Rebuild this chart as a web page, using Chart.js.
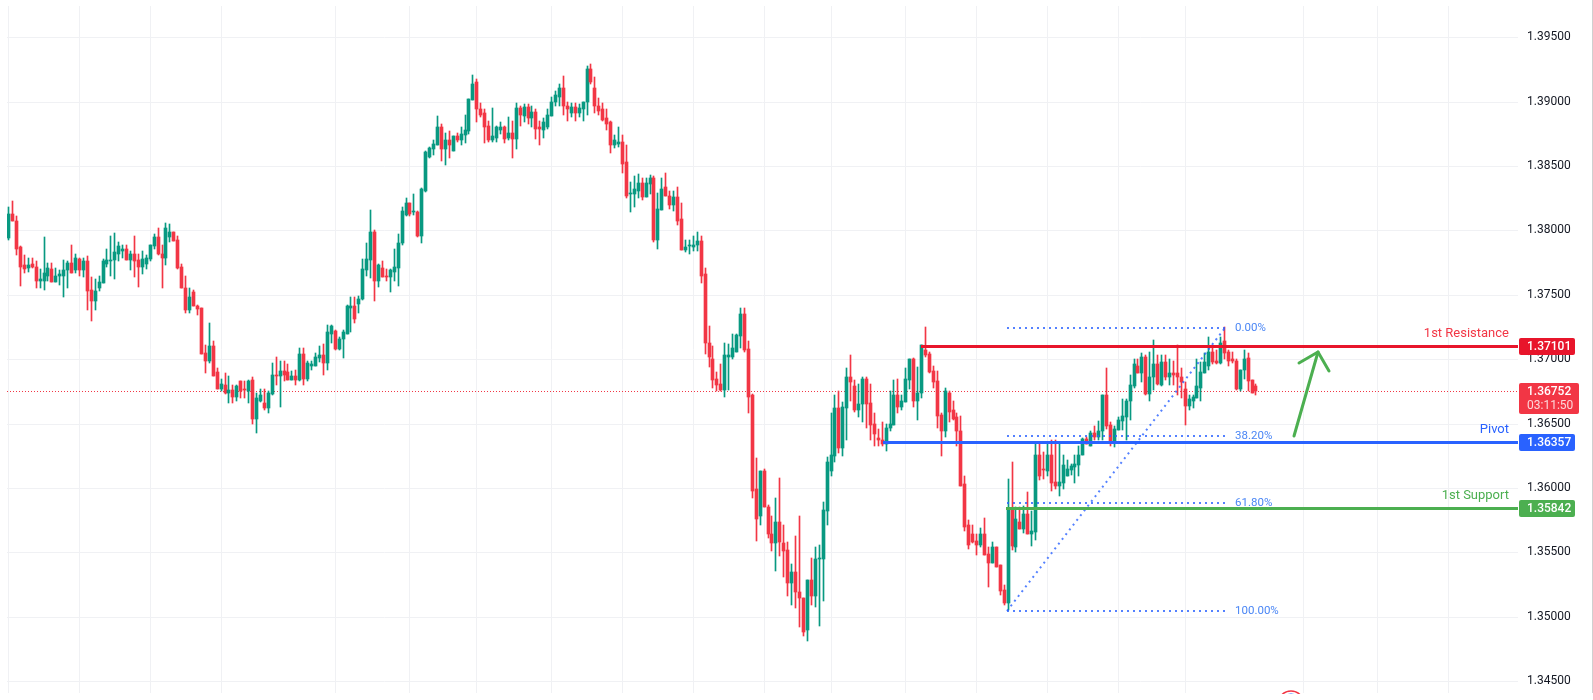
<!DOCTYPE html>
<html><head><meta charset="utf-8">
<style>html,body{margin:0;padding:0;background:#fff;overflow:hidden}canvas{display:block}</style>
<script src="https://cdn.jsdelivr.net/npm/chart.js@4"></script></head>
<body><canvas id="c" width="1593" height="700"></canvas>
<script>
const opens=[1.3794,1.3813,1.3807,1.3787,1.3773,1.3771,1.3774,1.3772,1.3761,1.3761,
1.3765,1.3770,1.3760,1.3765,1.3765,1.3769,1.3775,1.3769,1.3778,1.3769,
1.3776,1.3754,1.3745,1.3755,1.3759,1.3774,1.3776,1.3777,1.3782,1.3784,
1.3786,1.3777,1.3782,1.3777,1.3772,1.3774,1.3778,1.3788,1.3795,1.3782,
1.3779,1.3795,1.3799,1.3793,1.3772,1.3755,1.3738,1.3752,1.3741,1.3740,
1.3705,1.3699,1.3710,1.3690,1.3677,1.3680,1.3674,1.3676,1.3671,1.3683,
1.3677,1.3675,1.3684,1.3654,1.3668,1.3666,1.3662,1.3673,1.3688,1.3687,
1.3691,1.3690,1.3684,1.3687,1.3684,1.3704,1.3685,1.3695,1.3695,1.3701,
1.3703,1.3697,1.3720,1.3722,1.3708,1.3716,1.3720,1.3740,1.3741,1.3743,
1.3747,1.3769,1.3777,1.3799,1.3761,1.3771,1.3765,1.3764,1.3768,1.3771,
1.3790,1.3812,1.3821,1.3814,1.3814,1.3796,1.3831,1.3857,1.3863,1.3866,
1.3880,1.3863,1.3870,1.3862,1.3873,1.3870,1.3874,1.3877,1.3901,1.3915,
1.3894,1.3891,1.3881,1.3870,1.3872,1.3878,1.3880,1.3872,1.3876,1.3871,
1.3895,1.3889,1.3896,1.3887,1.3892,1.3880,1.3878,1.3880,1.3889,1.3900,
1.3904,1.3911,1.3897,1.3891,1.3896,1.3891,1.3894,1.3900,1.3925,1.3911,
1.3897,1.3894,1.3887,1.3884,1.3866,1.3867,1.3869,1.3853,1.3828,1.3828,
1.3831,1.3837,1.3826,1.3836,1.3841,1.3793,1.3816,1.3834,1.3827,1.3820,
1.3826,1.3809,1.3785,1.3788,1.3787,1.3789,1.3792,1.3766,1.3713,1.3700,
1.3685,1.3681,1.3676,1.3702,1.3702,1.3706,1.3718,1.3735,1.3708,1.3672,
1.3599,1.3578,1.3613,1.3585,1.3564,1.3557,1.3574,1.3557,1.3552,1.3526,
1.3535,1.3519,1.3515,1.3490,1.3529,1.3516,1.3545,1.3545,1.3582,1.3613,
1.3625,1.3662,1.3631,1.3662,1.3686,1.3679,1.3661,1.3665,1.3685,1.3666,
1.3650,1.3639,1.3637,1.3634,1.3647,1.3649,1.3672,1.3663,1.3667,1.3684,
1.3700,1.3668,1.3674,1.3707,1.3704,1.3691,1.3683,1.3657,1.3644,1.3674,
1.3661,1.3655,1.3644,1.3603,1.3571,1.3564,1.3559,1.3556,1.3564,1.3549,
1.3542,1.3554,1.3540,1.3521,1.3511,1.3584,1.3554,1.3574,1.3568,1.3580,
1.3564,1.3566,1.3626,1.3615,1.3613,1.3626,1.3605,1.3602,1.3604,1.3609,
1.3614,1.3616,1.3618,1.3626,1.3638,1.3633,1.3643,1.3640,1.3644,1.3672,
1.3649,1.3636,1.3645,1.3652,1.3655,1.3668,1.3679,1.3695,1.3689,1.3702,
1.3673,1.3686,1.3696,1.3680,1.3698,1.3686,1.3689,1.3689,1.3686,1.3677,
1.3664,1.3668,1.3670,1.3678,1.3689,1.3695,1.3706,1.3699,1.3697,1.3714,
1.3706,1.3700,1.3699,1.3677,1.3692,1.3701,1.3684,1.3679];
const highs=[1.3818,1.3823,1.3811,1.3788,1.3781,1.3779,1.3779,1.3776,1.3770,1.3795,
1.3775,1.3775,1.3771,1.3769,1.3777,1.3776,1.3789,1.3782,1.3779,1.3779,
1.3780,1.3764,1.3762,1.3765,1.3778,1.3786,1.3796,1.3798,1.3791,1.3789,
1.3789,1.3784,1.3796,1.3782,1.3784,1.3781,1.3789,1.3797,1.3802,1.3789,
1.3806,1.3805,1.3799,1.3796,1.3774,1.3765,1.3755,1.3754,1.3742,1.3740,
1.3711,1.3728,1.3714,1.3693,1.3685,1.3689,1.3687,1.3680,1.3680,1.3683,
1.3683,1.3684,1.3686,1.3674,1.3677,1.3677,1.3675,1.3697,1.3702,1.3699,
1.3699,1.3696,1.3691,1.3692,1.3709,1.3709,1.3699,1.3699,1.3705,1.3710,
1.3712,1.3727,1.3727,1.3723,1.3717,1.3723,1.3742,1.3748,1.3748,1.3749,
1.3778,1.3790,1.3816,1.3800,1.3774,1.3776,1.3770,1.3770,1.3786,1.3797,
1.3818,1.3825,1.3821,1.3828,1.3815,1.3833,1.3862,1.3865,1.3870,1.3889,
1.3883,1.3876,1.3877,1.3873,1.3876,1.3880,1.3890,1.3902,1.3921,1.3918,
1.3899,1.3894,1.3885,1.3895,1.3881,1.3884,1.3881,1.3888,1.3885,1.3899,
1.3897,1.3898,1.3898,1.3897,1.3894,1.3885,1.3887,1.3894,1.3904,1.3908,
1.3914,1.3920,1.3900,1.3899,1.3899,1.3898,1.3900,1.3928,1.3929,1.3919,
1.3903,1.3899,1.3894,1.3885,1.3874,1.3880,1.3874,1.3866,1.3838,1.3842,
1.3844,1.3841,1.3841,1.3843,1.3842,1.3829,1.3841,1.3845,1.3831,1.3831,
1.3834,1.3821,1.3793,1.3793,1.3796,1.3799,1.3796,1.3771,1.3726,1.3710,
1.3690,1.3696,1.3713,1.3712,1.3720,1.3720,1.3740,1.3740,1.3714,1.3673,
1.3623,1.3613,1.3615,1.3587,1.3578,1.3592,1.3608,1.3571,1.3558,1.3541,
1.3563,1.3578,1.3515,1.3529,1.3546,1.3554,1.3556,1.3589,1.3624,1.3658,
1.3672,1.3675,1.3667,1.3693,1.3703,1.3684,1.3681,1.3686,1.3686,1.3681,
1.3658,1.3646,1.3651,1.3650,1.3675,1.3684,1.3685,1.3672,1.3693,1.3700,
1.3701,1.3694,1.3711,1.3725,1.3706,1.3695,1.3691,1.3658,1.3678,1.3675,
1.3668,1.3658,1.3656,1.3609,1.3575,1.3571,1.3564,1.3569,1.3577,1.3554,
1.3558,1.3554,1.3540,1.3525,1.3607,1.3620,1.3585,1.3585,1.3586,1.3597,
1.3582,1.3636,1.3634,1.3628,1.3635,1.3637,1.3637,1.3636,1.3626,1.3622,
1.3619,1.3626,1.3633,1.3639,1.3640,1.3644,1.3648,1.3652,1.3672,1.3693,
1.3651,1.3648,1.3655,1.3669,1.3669,1.3688,1.3700,1.3700,1.3705,1.3703,
1.3706,1.3715,1.3703,1.3703,1.3703,1.3700,1.3699,1.3711,1.3693,1.3682,
1.3672,1.3672,1.3700,1.3698,1.3705,1.3717,1.3710,1.3707,1.3717,1.3725,
1.3707,1.3706,1.3700,1.3692,1.3707,1.3705,1.3684,1.3681];
const lows=[1.3793,1.3807,1.3781,1.3757,1.3767,1.3768,1.3771,1.3755,1.3755,1.3754,
1.3761,1.3760,1.3760,1.3758,1.3748,1.3755,1.3767,1.3767,1.3765,1.3764,
1.3738,1.3730,1.3738,1.3753,1.3759,1.3772,1.3765,1.3762,1.3776,1.3779,
1.3777,1.3769,1.3764,1.3756,1.3766,1.3770,1.3776,1.3786,1.3781,1.3755,
1.3773,1.3791,1.3792,1.3770,1.3755,1.3736,1.3736,1.3741,1.3734,1.3704,
1.3689,1.3697,1.3687,1.3677,1.3675,1.3673,1.3666,1.3666,1.3668,1.3670,
1.3670,1.3666,1.3650,1.3643,1.3667,1.3661,1.3658,1.3672,1.3680,1.3663,
1.3683,1.3684,1.3684,1.3680,1.3683,1.3680,1.3683,1.3692,1.3695,1.3698,
1.3688,1.3692,1.3713,1.3707,1.3707,1.3701,1.3720,1.3721,1.3728,1.3736,
1.3746,1.3765,1.3763,1.3745,1.3756,1.3764,1.3761,1.3752,1.3761,1.3757,
1.3789,1.3811,1.3811,1.3812,1.3795,1.3790,1.3830,1.3856,1.3859,1.3866,
1.3854,1.3851,1.3856,1.3862,1.3869,1.3866,1.3868,1.3875,1.3901,1.3884,
1.3888,1.3868,1.3869,1.3869,1.3869,1.3875,1.3868,1.3870,1.3856,1.3863,
1.3881,1.3884,1.3883,1.3880,1.3871,1.3866,1.3872,1.3879,1.3889,1.3897,
1.3897,1.3890,1.3885,1.3888,1.3885,1.3888,1.3885,1.3890,1.3914,1.3891,
1.3890,1.3885,1.3878,1.3860,1.3864,1.3865,1.3845,1.3825,1.3814,1.3818,
1.3825,1.3824,1.3826,1.3828,1.3791,1.3786,1.3816,1.3827,1.3817,1.3815,
1.3804,1.3785,1.3783,1.3782,1.3784,1.3784,1.3759,1.3704,1.3694,1.3678,
1.3675,1.3675,1.3671,1.3676,1.3700,1.3706,1.3709,1.3706,1.3658,1.3592,
1.3559,1.3571,1.3585,1.3561,1.3551,1.3536,1.3547,1.3531,1.3516,1.3509,
1.3507,1.3492,1.3485,1.3481,1.3509,1.3508,1.3493,1.3512,1.3571,1.3609,
1.3620,1.3627,1.3625,1.3637,1.3668,1.3659,1.3655,1.3651,1.3647,1.3637,
1.3633,1.3633,1.3633,1.3629,1.3644,1.3649,1.3658,1.3661,1.3667,1.3677,
1.3663,1.3653,1.3670,1.3702,1.3689,1.3678,1.3647,1.3625,1.3640,1.3651,
1.3653,1.3633,1.3602,1.3567,1.3553,1.3557,1.3548,1.3554,1.3548,1.3523,
1.3542,1.3539,1.3517,1.3509,1.3505,1.3552,1.3550,1.3568,1.3565,1.3564,
1.3555,1.3560,1.3606,1.3607,1.3609,1.3598,1.3599,1.3594,1.3599,1.3609,
1.3610,1.3604,1.3609,1.3626,1.3634,1.3633,1.3637,1.3637,1.3637,1.3646,
1.3633,1.3632,1.3645,1.3645,1.3637,1.3653,1.3678,1.3689,1.3682,1.3672,
1.3668,1.3676,1.3680,1.3679,1.3684,1.3680,1.3680,1.3672,1.3670,1.3649,
1.3661,1.3662,1.3670,1.3668,1.3689,1.3692,1.3696,1.3696,1.3696,1.3700,
1.3695,1.3697,1.3676,1.3675,1.3685,1.3675,1.3674,1.3672];
const closes=[1.3813,1.3807,1.3786,1.3772,1.3770,1.3773,1.3772,1.3761,1.3762,1.3767,
1.3771,1.3760,1.3765,1.3766,1.3769,1.3775,1.3767,1.3779,1.3769,1.3776,
1.3753,1.3745,1.3753,1.3760,1.3776,1.3777,1.3777,1.3783,1.3788,1.3786,
1.3777,1.3782,1.3776,1.3772,1.3778,1.3779,1.3789,1.3795,1.3782,1.3779,
1.3802,1.3799,1.3792,1.3771,1.3755,1.3738,1.3748,1.3741,1.3739,1.3704,
1.3699,1.3710,1.3687,1.3677,1.3681,1.3674,1.3676,1.3671,1.3679,1.3675,
1.3676,1.3683,1.3654,1.3670,1.3672,1.3662,1.3674,1.3688,1.3687,1.3691,
1.3688,1.3684,1.3687,1.3684,1.3704,1.3685,1.3697,1.3696,1.3702,1.3703,
1.3697,1.3721,1.3726,1.3708,1.3716,1.3721,1.3741,1.3741,1.3731,1.3747,
1.3770,1.3778,1.3799,1.3761,1.3773,1.3764,1.3764,1.3769,1.3772,1.3790,
1.3815,1.3821,1.3813,1.3815,1.3796,1.3832,1.3861,1.3864,1.3867,1.3880,
1.3863,1.3870,1.3866,1.3873,1.3870,1.3875,1.3878,1.3902,1.3914,1.3894,
1.3890,1.3880,1.3870,1.3873,1.3880,1.3880,1.3871,1.3876,1.3871,1.3895,
1.3890,1.3896,1.3887,1.3892,1.3879,1.3879,1.3884,1.3890,1.3900,1.3905,
1.3911,1.3897,1.3894,1.3896,1.3891,1.3895,1.3900,1.3925,1.3915,1.3897,
1.3893,1.3886,1.3883,1.3866,1.3870,1.3869,1.3852,1.3827,1.3829,1.3832,
1.3837,1.3826,1.3837,1.3841,1.3793,1.3817,1.3832,1.3827,1.3820,1.3826,
1.3807,1.3785,1.3787,1.3789,1.3789,1.3792,1.3765,1.3713,1.3702,1.3684,
1.3680,1.3676,1.3703,1.3703,1.3709,1.3719,1.3735,1.3707,1.3671,1.3598,
1.3576,1.3613,1.3585,1.3564,1.3557,1.3574,1.3558,1.3551,1.3526,1.3535,
1.3519,1.3515,1.3488,1.3529,1.3516,1.3545,1.3546,1.3583,1.3620,1.3626,
1.3662,1.3631,1.3663,1.3686,1.3682,1.3661,1.3665,1.3685,1.3665,1.3649,
1.3642,1.3637,1.3634,1.3647,1.3650,1.3672,1.3663,1.3668,1.3685,1.3700,
1.3668,1.3674,1.3711,1.3703,1.3690,1.3682,1.3656,1.3644,1.3675,1.3659,
1.3654,1.3644,1.3602,1.3570,1.3556,1.3558,1.3556,1.3564,1.3548,1.3542,
1.3554,1.3539,1.3520,1.3511,1.3584,1.3555,1.3576,1.3568,1.3580,1.3564,
1.3567,1.3626,1.3609,1.3614,1.3626,1.3604,1.3602,1.3605,1.3618,1.3615,
1.3617,1.3619,1.3626,1.3638,1.3634,1.3643,1.3640,1.3644,1.3672,1.3648,
1.3636,1.3646,1.3653,1.3656,1.3668,1.3680,1.3696,1.3689,1.3702,1.3673,
1.3686,1.3696,1.3681,1.3698,1.3686,1.3689,1.3688,1.3686,1.3682,1.3664,
1.3669,1.3671,1.3679,1.3690,1.3698,1.3706,1.3698,1.3697,1.3713,1.3705,
1.3699,1.3699,1.3677,1.3692,1.3700,1.3683,1.3674,1.36752];

const priceTicks=[1.395,1.39,1.385,1.38,1.375,1.37,1.365,1.36,1.355,1.35,1.345];
const timeGrid=[0,18,36,54,83,102,119,138,156,174,192,209,228,246,264,282,299,329,348,366];

const resistance=1.37101, pivot=1.36357, support=1.35842, lastPrice=1.36752;
const countdown='03:11:50';
const levelStarts=[232,222.3,253.6];
const fibLevels=[1.37245,1.36404,1.35887,1.35046];
const fibTexts=['0.00%','38.20%','61.80%','100.00%'];
const fibSpan=[253.8,309.2];
const arrowShaftX=[326.8,332.97], arrowShaftY=[1.36407,1.37059];
const arrowHeadX=[328.1,332.97,335.8], arrowHeadY=[1.36974,1.37059,1.36907];
const eventIndex=325.9;

const X_MIN=-0.2795, X_MAX=383.71, Y_MIN=1.34409, Y_MAX=1.39743;
const UP='#089981', DOWN='#f23645';
const RES_C='#e8152b', PIV_C='#2962ff', SUP_C='#4caf50', FIB_C='rgba(41,98,255,0.8)';
const FONT='Roboto, "Liberation Sans", sans-serif';

const candleColors=opens.map((o,i)=>closes[i]>=o?UP:DOWN);
const bar=(a,b,th,ord)=>({type:'bar',grouped:false,barThickness:th,order:ord,borderWidth:0,
  backgroundColor:candleColors,data:opens.map((_,i)=>({x:i,y:[a[i],b[i]]}))});
const hline=(x0,x1,v,color,w,dash,ord)=>({type:'line',level:true,order:ord,borderColor:color,borderWidth:w,borderDash:dash||[],
  pointRadius:0,tension:0,fill:false,data:[{x:x0,y:v},{x:x1,y:v}]});
const path=(xs,ys,color,w,dash,ord,cap)=>({type:'line',order:ord,borderColor:color,borderWidth:w,borderDash:dash||[],
  borderCapStyle:cap||'butt',borderJoinStyle:'round',pointRadius:0,tension:0,fill:false,data:xs.map((x,i)=>({x,y:ys[i]}))});

const datasets=[
  hline(X_MIN,X_MAX,lastPrice,DOWN,1,[1,2],6),
  bar(lows,highs,1,5),
  bar(opens,closes,3,4),
  ...fibLevels.map(v=>hline(fibSpan[0],fibSpan[1],v,FIB_C,2,[2,4],3)),
  path(fibSpan,[fibLevels[3],fibLevels[0]],FIB_C,2,[2,4],3),
  hline(levelStarts[0],X_MAX,resistance,RES_C,3,null,2),
  hline(levelStarts[1],X_MAX,pivot,PIV_C,3,null,2),
  hline(levelStarts[2],X_MAX,support,SUP_C,3,null,2),
  path(arrowShaftX,arrowShaftY,SUP_C,3,null,1,'round'),
  path(arrowHeadX,arrowHeadY,SUP_C,3,null,1,'round'),
];

const snapCandles={id:'snapCandles',beforeDatasetsDraw(chart){
  chart.data.datasets.forEach((d,di)=>{
    const meta=chart.getDatasetMeta(di);
    if(d.level){
      const odd=d.borderWidth%2===1;
      meta.data.forEach(el=>{el.y=odd?Math.floor(el.y)+0.5:Math.round(el.y);});
      return;
    }
    if(d.type!=='bar')return;
    meta.data.forEach(el=>{
      el.x=Math.floor(el.x)+0.5;
      const t=Math.round(Math.min(el.y,el.base)); let b=Math.round(Math.max(el.y,el.base));
      if(b<=t)b=t+1;
      el.y=t; el.base=b; el.height=b-t;
    });
  });
}};

function box(ctx,x,y,w,h,color){
  ctx.fillStyle=color;ctx.beginPath();ctx.roundRect(x,y,w,h,2);ctx.fill();
}
const overlay={id:'overlay',afterDraw(chart){
  const ctx=chart.ctx,{x:xs,y:ys}=chart.scales,area=chart.chartArea;
  ctx.save();
  ctx.textBaseline='middle';
  // fib labels
  ctx.textAlign='left';ctx.fillStyle='#4a86f5';ctx.font='11.5px '+FONT;
  const fibX=xs.getPixelForValue(fibSpan[1])+10;
  fibLevels.forEach((v,i)=>ctx.fillText(fibTexts[i],fibX,ys.getPixelForValue(v)));
  // level captions
  ctx.textAlign='right';ctx.font='13px '+FONT;
  [['1st Resistance',resistance,'#f23645'],['Pivot',pivot,PIV_C],['1st Support',support,SUP_C]].forEach(([t,v,c])=>{
    ctx.fillStyle=c;ctx.fillText(t,area.right-9,ys.getPixelForValue(v)-12);
  });
  // price boxes
  ctx.textAlign='left';
  [[resistance,RES_C],[pivot,PIV_C],[support,SUP_C]].forEach(([v,c])=>{
    const y=Math.round(ys.getPixelForValue(v));
    box(ctx,area.right+1,y-8,56,17,c);
    ctx.fillStyle='#fff';ctx.font='500 12px '+FONT;
    ctx.fillText(v.toFixed(5),area.right+9,y+0.5);
  });
  const ly=Math.round(ys.getPixelForValue(lastPrice));
  box(ctx,area.right+1,ly-8,60,31,'#f23645');
  ctx.fillStyle='#fff';ctx.font='500 12px '+FONT;
  ctx.fillText(lastPrice.toFixed(5),area.right+9,ly+0.5);
  ctx.fillStyle='rgba(255,255,255,0.8)';ctx.font='12px '+FONT;
  ctx.fillText(countdown,area.right+9,ly+14.5);
  // event marker cut by the pane edge
  const ex=xs.getPixelForValue(eventIndex);
  ctx.beginPath();ctx.rect(ex-20,680,40,area.bottom+1-680);ctx.clip();
  ctx.lineWidth=1.5;ctx.strokeStyle='#f23645';ctx.beginPath();ctx.arc(ex,704,13,0,Math.PI*2);ctx.stroke();
  ctx.fillStyle='#2962ff';ctx.beginPath();ctx.arc(ex,704,10.5,0,Math.PI*2);ctx.fill();
  ctx.restore();
  // window edge
  ctx.fillStyle='#d0d0d0';ctx.fillRect(1592,0,1,693);
}};

Chart.defaults.font.family=FONT;
new Chart(document.getElementById('c'),{
  data:{datasets},
  plugins:[snapCandles,overlay],
  options:{
    responsive:false,animation:false,devicePixelRatio:1,
    layout:{padding:{left:7,top:6,bottom:7,right:0}},
    plugins:{legend:{display:false},tooltip:{enabled:false}},
    events:[],
    scales:{
      x:{type:'linear',min:X_MIN,max:X_MAX,offset:false,alignToPixels:true,
        afterBuildTicks(s){s.ticks=timeGrid.map(value=>({value}));},
        grid:{color:'#f0f1f4',lineWidth:1,drawTicks:false,offset:false},border:{display:false},
        ticks:{display:false}},
      y:{type:'linear',position:'right',min:Y_MIN,max:Y_MAX,alignToPixels:true,
        afterBuildTicks(s){s.ticks=priceTicks.map(value=>({value}));},
        afterFit(s){s.width=75;s.paddingTop=0;s.paddingBottom=0;},
        grid:{color:'#f0f1f4',lineWidth:1,drawTicks:false},border:{display:false},
        ticks:{padding:9,color:'#131722',font:{size:12,family:FONT},callback:v=>Number(v).toFixed(5)}}
    }
  }
});
</script></body></html>
